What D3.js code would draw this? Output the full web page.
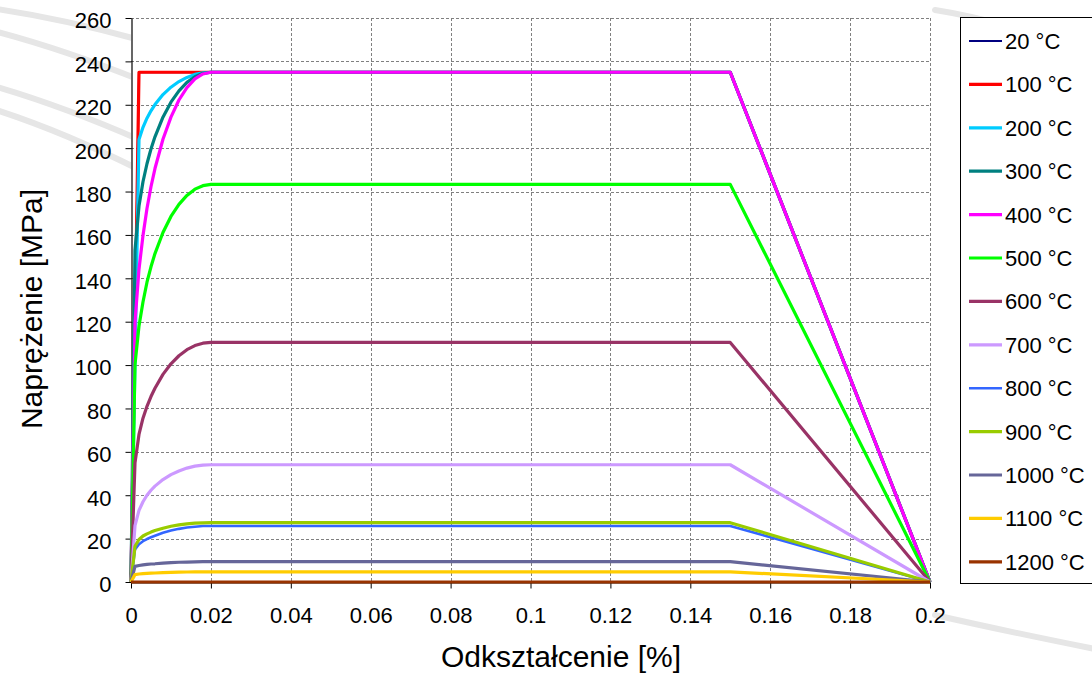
<!DOCTYPE html>
<html>
<head>
<meta charset="utf-8">
<script src="https://cdn.jsdelivr.net/npm/d3@7"></script>
<style>
  body { margin: 0; background: #fff; }
  svg { display: block; font-family: "Liberation Sans", Arial, sans-serif; }
</style>
</head>
<body>
<svg id="chart" width="1092" height="675"></svg>
<script>
// strain points shared by every curve
var strain = [0, 0.001, 0.002, 0.003, 0.004, 0.005, 0.006, 0.008, 0.010, 0.012, 0.014, 0.016, 0.018, 0.020, 0.15, 0.2];

// stress [MPa] per temperature
var stress20   = [0, 117, 235, 235, 235, 235, 235, 235, 235, 235, 235, 235, 235, 235, 235, 0];
var stress100  = [0, 117, 235, 235, 235, 235, 235, 235, 235, 235, 235, 235, 235, 235, 235, 0];
var stress200  = [0, 102, 204, 209.6, 213.8, 217.2, 220.1, 224.7, 228.1, 230.7, 232.6, 234.0, 234.7, 235, 235, 0];
var stress300  = [0, 153, 173.3, 184.5, 192.8, 199.6, 205.2, 214.3, 221.2, 226.4, 230.3, 232.9, 234.5, 235, 235, 0];
var stress400  = [0, 119.7, 144.2, 159.7, 172.2, 182.2, 190.6, 204.1, 214.3, 222.2, 227.9, 231.9, 234.2, 235, 235, 0];
var stress500  = [0, 100.4, 118.0, 129.1, 138.2, 145.3, 151.4, 161.1, 168.5, 174.1, 178.2, 181.1, 182.7, 183.3, 183.3, 0];
var stress600  = [0, 55, 68, 75.5, 81, 85.5, 89.3, 95.7, 100.6, 104.3, 107.1, 109, 110.1, 110.45, 110.45, 0];
var stress700  = [0, 26, 33, 37, 40, 42.3, 44.2, 47.2, 49.5, 51.2, 52.5, 53.4, 53.9, 54.05, 54.05, 0];
var stress800  = [0, 15.0, 17.4, 18.8, 19.8, 20.6, 21.3, 22.7, 23.7, 24.5, 25.1, 25.5, 25.8, 25.85, 25.85, 0];
var stress900  = [0, 16.5, 19.6, 21.2, 22.2, 23.0, 23.7, 24.8, 25.7, 26.3, 26.8, 27.1, 27.3, 27.35, 27.35, 0];
var stress1000 = [0, 7.2, 7.6, 7.9, 8.1, 8.3, 8.4, 8.7, 8.9, 9.1, 9.2, 9.3, 9.4, 9.4, 9.4, 0];
var stress1100 = [0, 3.4, 3.7, 3.85, 3.95, 4.05, 4.15, 4.3, 4.45, 4.55, 4.6, 4.65, 4.7, 4.7, 4.7, 0];
var stress1200 = [0, 0, 0, 0, 0, 0, 0, 0, 0, 0, 0, 0, 0, 0, 0, 0];

var labels = ['20 °C', '100 °C', '200 °C', '300 °C', '400 °C', '500 °C', '600 °C',
              '700 °C', '800 °C', '900 °C', '1000 °C', '1100 °C', '1200 °C'];
var stresses = [stress20, stress100, stress200, stress300, stress400, stress500, stress600,
                stress700, stress800, stress900, stress1000, stress1100, stress1200];

var xTicks = [0, 0.02, 0.04, 0.06, 0.08, 0.1, 0.12, 0.14, 0.16, 0.18, 0.2];
var yTicks = [0, 20, 40, 60, 80, 100, 120, 140, 160, 180, 200, 220, 240, 260];

var colors = ['#000080', '#ff0000', '#00ccff', '#008080', '#ff00ff', '#00ff00', '#993366',
              '#cc99ff', '#3366ff', '#99cc00', '#666699', '#ffcc00', '#993300'];
var widths = [2, 3.2, 3.2, 3.2, 3.2, 3.2, 3.2, 3.2, 2.6, 3.2, 3.2, 3.2, 3.2];

var svg = d3.select('#chart');
var plotLeft = 131, plotRight = 930, plotTop = 18, plotBottom = 582;

var x = d3.scaleLinear().domain([0, 0.2]).range([plotLeft, plotRight]);
var y = d3.scaleLinear().domain([0, 260]).range([plotBottom, plotTop]);

// faint watermark streaks behind the chart
var streaks = svg.append('g')
    .attr('fill', 'none')
    .attr('stroke', '#e6e6e6')
    .attr('stroke-width', 6)
    .attr('stroke-linecap', 'round');
['M-10,8 Q60,18 140,40', 'M-10,30 Q60,48 140,80', 'M-10,85 Q60,105 140,140',
 'M-10,108 Q60,130 140,170', 'M935,10 Q1000,20 1100,55', 'M1050,330 Q1075,345 1100,360',
 'M1050,395 Q1075,405 1100,420', 'M935,615 Q1000,630 1100,650'].forEach(function (p) {
    streaks.append('path').attr('d', p);
});

// plot background
svg.append('rect')
    .attr('x', plotLeft).attr('y', plotTop)
    .attr('width', plotRight - plotLeft).attr('height', plotBottom - plotTop)
    .attr('fill', '#fff');

// dashed grid
var grid = svg.append('g')
    .attr('stroke', '#808080')
    .attr('stroke-width', 1)
    .attr('stroke-dasharray', '3,2');
grid.selectAll('.hg')
    .data(yTicks.filter(function (d) { return d > 0; }))
    .enter().append('line')
    .attr('x1', plotLeft).attr('x2', plotRight)
    .attr('y1', function (d) { return Math.round(y(d)) + 0.5; })
    .attr('y2', function (d) { return Math.round(y(d)) + 0.5; });
grid.selectAll('.vg')
    .data(xTicks.filter(function (d) { return d > 0; }))
    .enter().append('line')
    .attr('y1', plotTop).attr('y2', plotBottom)
    .attr('x1', function (d) { return Math.round(x(d)) + 0.5; })
    .attr('x2', function (d) { return Math.round(x(d)) + 0.5; });

// axes
var fmt = function (d) { return d === 0 ? '0' : String(+d.toFixed(2)); };

var yAxis = svg.append('g')
    .attr('transform', 'translate(' + (plotLeft + 0.5) + ',0)')
    .call(d3.axisLeft(y).tickValues(yTicks).tickSize(6).tickSizeOuter(0).tickPadding(14));
yAxis.selectAll('text').attr('dy', '0.45em');

var xAxis = svg.append('g')
    .attr('transform', 'translate(0,' + (plotBottom + 0.5) + ')')
    .call(d3.axisBottom(x).tickValues(xTicks).tickFormat(fmt).tickSize(6).tickSizeOuter(0).tickPadding(19));

[yAxis, xAxis].forEach(function (a) {
    a.select('.domain').attr('stroke', '#000').attr('stroke-width', 1.2);
    a.selectAll('.tick line').attr('stroke', '#000');
    a.selectAll('text')
        .attr('font-family', '"Liberation Sans", Arial, sans-serif')
        .attr('font-size', 22)
        .attr('fill', '#000');
});

// curves
var line = d3.line()
    .x(function (d, i) { return x(strain[i]); })
    .y(function (d) { return y(d); });

svg.append('g')
    .selectAll('path')
    .data(stresses)
    .enter().append('path')
    .attr('d', line)
    .attr('fill', 'none')
    .attr('stroke', function (d, i) { return colors[i]; })
    .attr('stroke-width', function (d, i) { return widths[i]; })
    .attr('stroke-linejoin', 'round');

// axis titles
svg.append('text')
    .attr('x', 561).attr('y', 667)
    .attr('text-anchor', 'middle')
    .attr('font-size', 30)
    .text('Odkształcenie [%]');

svg.append('text')
    .attr('transform', 'translate(42,309) rotate(-90)')
    .attr('text-anchor', 'middle')
    .attr('font-size', 30)
    .text('Naprężenie [MPa]');

// legend
var legend = svg.append('g');
legend.append('rect')
    .attr('x', 960.5).attr('y', 17.5)
    .attr('width', 150).attr('height', 566)
    .attr('fill', '#fff')
    .attr('stroke', '#000')
    .attr('stroke-width', 1);

var item = legend.selectAll('.item')
    .data(labels)
    .enter().append('g')
    .attr('transform', function (d, i) { return 'translate(0,' + (41 + i * 43.4) + ')'; });
item.append('line')
    .attr('x1', 969).attr('x2', 1002)
    .attr('stroke', function (d, i) { return colors[i]; })
    .attr('stroke-width', function (d, i) { return widths[i]; });
item.append('text')
    .attr('x', 1005).attr('dy', '0.36em')
    .attr('font-size', 22)
    .text(function (d) { return d; });
</script>
</body>
</html>
